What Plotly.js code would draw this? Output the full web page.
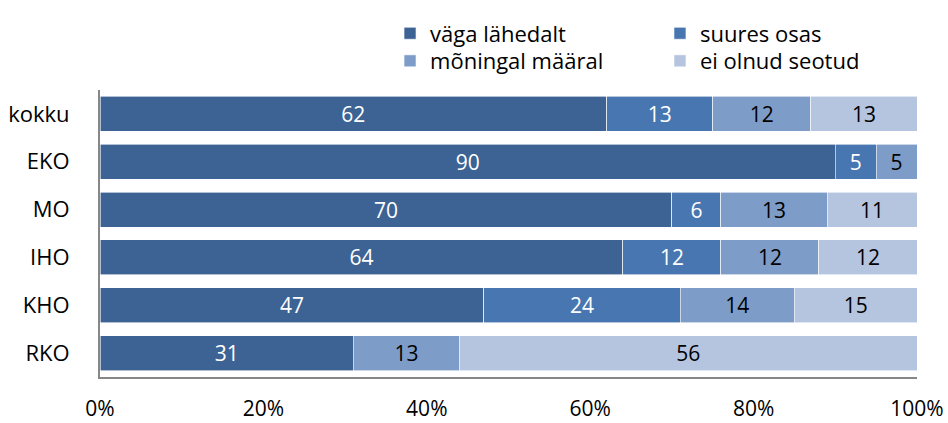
<!DOCTYPE html>
<html><head><meta charset="utf-8">
<script src="https://cdn.plot.ly/plotly-3.0.1.min.js"></script>
<style>html,body{margin:0;padding:0;background:#fff}</style>
</head><body><div id="chart" style="width:948px;height:423px"></div>
<script>
const categories = ['kokku','EKO','MO','IHO','KHO','RKO'];
const seriesNames = ['väga lähedalt','suures osas','mõningal määral','ei olnud seotud'];
const vagaLahedalt = [62,90,70,64,47,31];
const suuresOsas = [13,5,6,12,24,null];
const moningalMaaral = [12,5,13,12,14,13];
const eiOlnudSeotud = [13,null,11,12,15,56];
const tickVals = [0,20,40,60,80,100];
const tickText = ['0%','20%','40%','60%','80%','100%'];

const seriesValues = [vagaLahedalt, suuresOsas, moningalMaaral, eiOlnudSeotud];
const colors = ['#3c6394','#4776b0','#7e9cc8','#b5c4df'];
const textColors = ['#ffffff','#ffffff','#000000','#000000'];
const legendIds = ['legend','legend2','legend3','legend4'];
const FONT = 'Open Sans, sans-serif';

const traces = seriesNames.map((name, i) => ({
  type: 'bar',
  orientation: 'h',
  name: name,
  y: categories,
  x: seriesValues[i],
  text: seriesValues[i].map(v => v == null ? '' : String(v)),
  textposition: 'inside',
  insidetextanchor: 'middle',
  textangle: 0,
  constraintext: 'none',
  textfont: {family: FONT, size: 21, color: textColors[i]},
  marker: {color: colors[i], line: {color: '#ffffff', width: 0.6}},
  legend: legendIds[i],
  hoverinfo: 'none'
}));

function legendAt(x, y) {
  return {x: x, y: y, xref: 'paper', yref: 'paper', xanchor: 'left', yanchor: 'middle',
    orientation: 'h', bgcolor: 'rgba(0,0,0,0)', font: {family: FONT, size: 22, color: '#000'}};
}

const layout = {
  width: 948, height: 423,
  margin: {l: 100, r: 31, t: 85, b: 46},
  paper_bgcolor: '#ffffff', plot_bgcolor: '#ffffff',
  barmode: 'stack',
  bargap: 0.27,
  showlegend: true,
  legend: legendAt(0.355, 1.197),
  legend2: legendAt(0.6854, 1.197),
  legend3: legendAt(0.355, 1.101),
  legend4: legendAt(0.6854, 1.101),
  font: {family: FONT, size: 20, color: '#000'},
  xaxis: {
    range: [0, 100], tickvals: tickVals, ticktext: tickText,
    showgrid: false, zeroline: false, showline: true, linecolor: '#878787', linewidth: 2,
    ticks: '', ticklabelstandoff: 12,
    tickfont: {family: 'Liberation Sans Narrow, Open Sans, sans-serif', size: 21, color: '#000'}
  },
  yaxis: {
    type: 'category', autorange: 'reversed',
    showgrid: false, zeroline: false, showline: true, linecolor: '#878787', linewidth: 2,
    ticks: '', ticklabelstandoff: 24,
    tickfont: {family: FONT, size: 22, color: '#000'}
  }
};

Plotly.newPlot('chart', traces, layout, {displayModeBar: false, staticPlot: true});
</script></body></html>
